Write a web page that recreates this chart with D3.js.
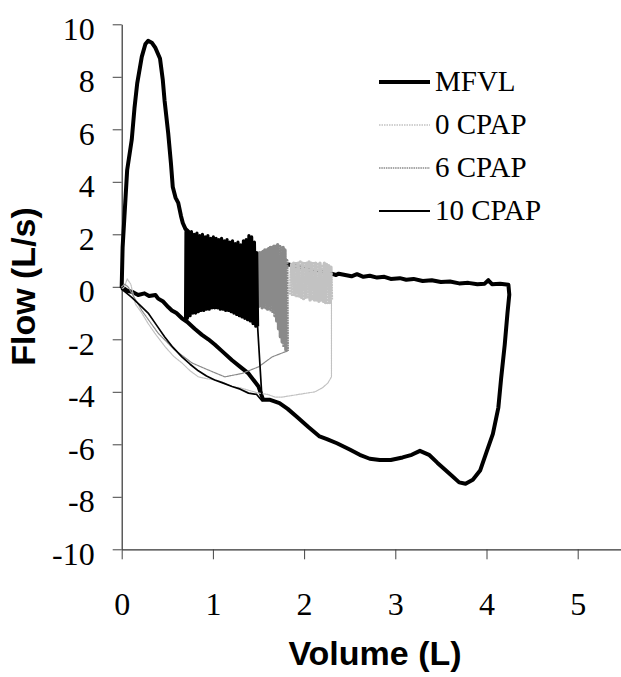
<!DOCTYPE html>
<html><head><meta charset="utf-8">
<script src="https://cdn.jsdelivr.net/npm/d3@7/dist/d3.min.js"></script>
<style>
html,body{margin:0;padding:0;background:#fff;}
svg{display:block;}
</style></head>
<body>
<svg id="chart" width="621" height="677"></svg>
<script>
// ---------- data ----------
const xTicks = [0, 1, 2, 3, 4, 5];
const yTicks = [-10, -8, -6, -4, -2, 0, 2, 4, 6, 8, 10];
const seriesNames = ["MFVL", "0 CPAP", "6 CPAP", "10 CPAP"];

// [volume (L), flow (L/s)]
const mfvl = [[0.00,0.00],[0.01,1.5],[0.06,4.45],[0.11,5.6],[0.14,6.8],[0.17,7.75],[0.22,8.76],[0.26,9.25],[0.29,9.37],[0.33,9.3],[0.37,9.1],[0.42,8.7],[0.45,7.9],[0.47,7.1],[0.51,5.85],[0.54,4.7],[0.56,3.8],[0.59,3.4],[0.62,3.2],[0.65,2.7],[0.67,2.43],[0.70,2.2],[0.85,1.7],[1.0,1.4],[1.15,1.2],[1.3,1.0],[1.5,0.9],[1.65,0.85],[1.83,0.85],[2.0,0.7],[2.15,0.6],[2.3,0.5],[2.35,0.45],[2.38,0.5],[2.45,0.45],[2.52,0.4],[2.58,0.48],[2.65,0.38],[2.72,0.42],[2.8,0.35],[2.88,0.38],[2.95,0.3],[3.05,0.33],[3.12,0.27],[3.2,0.3],[3.3,0.22],[3.4,0.25],[3.5,0.18],[3.6,0.2],[3.7,0.13],[3.8,0.15],[3.9,0.1],[3.98,0.12],[4.02,0.25],[4.06,0.1],[4.15,0.12],[4.24,0.08],[4.25,-0.3],[4.23,-1.0],[4.2,-2.2],[4.16,-3.5],[4.13,-4.6],[4.07,-5.6],[4.0,-6.3],[3.93,-7.0],[3.85,-7.35],[3.77,-7.5],[3.7,-7.45],[3.62,-7.2],[3.54,-6.95],[3.46,-6.7],[3.37,-6.4],[3.27,-6.25],[3.18,-6.4],[3.08,-6.5],[2.95,-6.6],[2.83,-6.6],[2.72,-6.55],[2.61,-6.4],[2.5,-6.2],[2.36,-5.96],[2.25,-5.8],[2.17,-5.7],[2.05,-5.35],[1.92,-4.95],[1.82,-4.65],[1.73,-4.43],[1.62,-4.3],[1.55,-4.3],[1.50,-3.8],[1.39,-3.3],[1.3,-3.05],[1.21,-2.8],[1.1,-2.45],[1.02,-2.2],[0.95,-2.0],[0.88,-1.83],[0.80,-1.6],[0.72,-1.34],[0.66,-1.2],[0.6,-1.0],[0.55,-0.9],[0.51,-0.77],[0.45,-0.55],[0.40,-0.45],[0.37,-0.31],[0.3,-0.35],[0.25,-0.25],[0.18,-0.31],[0.12,-0.2],[0.06,-0.15],[0.0,0.0]];

const cpap10Tidal = [[0.70,-1.3],[0.705,2.1],[0.72,-1.2],[0.735,2.05],[0.75,-1.1],[0.765,2.1],[0.78,-1.0],[0.795,2.0],[0.81,-1.0],[0.825,2.05],[0.84,-0.95],[0.855,1.95],[0.87,-0.9],[0.885,2.0],[0.90,-0.9],[0.915,1.9],[0.93,-0.85],[0.945,1.95],[0.96,-0.85],[0.975,1.85],[0.99,-0.8],[1.005,1.9],[1.02,-0.8],[1.035,1.85],[1.05,-0.8],[1.065,1.8],[1.08,-0.85],[1.095,1.85],[1.11,-0.85],[1.125,1.75],[1.14,-0.9],[1.155,1.8],[1.17,-0.9],[1.185,1.7],[1.20,-0.95],[1.215,1.75],[1.23,-1.0],[1.245,1.65],[1.26,-1.05],[1.275,1.7],[1.29,-1.1],[1.305,1.6],[1.32,-1.15],[1.335,1.75],[1.35,-1.2],[1.365,1.8],[1.38,-1.25],[1.395,1.95],[1.41,-1.3],[1.425,1.9],[1.44,-1.4],[1.455,1.7],[1.47,-1.5],[1.48,1.3],[1.49,-1.5]];
const cpap10Return = [[1.49,-1.5],[1.54,-4.35],[1.48,-4.1],[1.39,-4.05],[1.3,-3.9],[1.21,-3.8],[1.1,-3.65],[1.02,-3.55],[0.93,-3.4],[0.84,-3.2],[0.75,-2.95],[0.66,-2.67],[0.56,-2.3],[0.47,-1.9],[0.38,-1.45],[0.29,-1.0],[0.2,-0.7],[0.11,-0.4],[0.04,-0.2],[0.0,-0.1]];

const cpap6Tidal = [[1.48,-0.7],[1.49,1.25],[1.50,-0.75],[1.51,1.3],[1.52,-0.7],[1.53,1.3],[1.54,-0.8],[1.55,1.35],[1.56,-0.75],[1.57,1.4],[1.58,-0.8],[1.59,1.4],[1.60,-0.85],[1.61,1.45],[1.62,-0.9],[1.63,1.5],[1.64,-0.95],[1.65,1.5],[1.66,-1.0],[1.67,1.55],[1.68,-1.1],[1.69,1.6],[1.70,-1.3],[1.71,1.6],[1.72,-1.6],[1.73,1.6],[1.74,-1.9],[1.75,1.55],[1.76,-2.1],[1.77,1.5],[1.78,-2.3],[1.79,1.4],[1.80,-2.4],[1.81,1.0],[1.815,-2.45]];
const cpap6Return = [[1.815,-2.45],[1.76,-2.52],[1.65,-2.67],[1.5,-3.05],[1.32,-3.3],[1.13,-3.43],[0.95,-3.17],[0.77,-2.9],[0.58,-2.4],[0.4,-1.77],[0.22,-0.9],[0.07,0.0],[0.03,0.1],[0,0]];

const cpap0Tidal = [[1.85,-0.3],[1.862,0.85],[1.874,-0.35],[1.886,0.9],[1.898,-0.3],[1.91,0.95],[1.922,-0.4],[1.934,0.9],[1.946,-0.35],[1.958,0.95],[1.97,-0.4],[1.982,0.9],[1.994,-0.45],[2.006,0.95],[2.018,-0.4],[2.03,0.9],[2.042,-0.45],[2.054,0.95],[2.066,-0.5],[2.078,0.9],[2.09,-0.45],[2.102,0.95],[2.114,-0.5],[2.126,0.9],[2.138,-0.5],[2.15,0.85],[2.162,-0.55],[2.174,0.9],[2.186,-0.5],[2.198,0.85],[2.21,-0.55],[2.222,0.9],[2.234,-0.6],[2.246,0.85],[2.258,-0.6],[2.27,0.8],[2.282,-0.6],[2.294,0.75],[2.30,-0.5]];
const cpap0Return = [[2.30,-0.5],[2.30,-1.5],[2.3,-3.43],[2.26,-3.67],[2.2,-3.85],[2.12,-4.0],[2.03,-4.05],[1.94,-4.1],[1.85,-4.15],[1.76,-4.2],[1.68,-4.2],[1.6,-4.1],[1.5,-4.05],[1.4,-3.95],[1.3,-3.85],[1.21,-3.8],[1.12,-3.65],[1.03,-3.55],[0.93,-3.5],[0.84,-3.43],[0.75,-3.2],[0.66,-2.9],[0.57,-2.65],[0.48,-2.3],[0.38,-1.85],[0.29,-1.4],[0.22,-1.0],[0.15,-0.65],[0.1,0.1],[0.06,0.3],[0.03,0.0],[0,-0.1]];

// ---------- drawing ----------
const svg = d3.select("#chart");
const x = d3.scaleLinear().domain([0, 5.5]).range([121.7, 623.3]);
const y = d3.scaleLinear().domain([-10, 10]).range([549.3, 24.3]);

const styles = {
  "MFVL":    {stroke: "#000", width: 4, tidal: 4, dash: null, tidalDash: null},
  "0 CPAP":  {stroke: "#c2c2c2", width: 1.2, tidal: 3.4, dash: "1.5,1", tidalDash: "2.2,0.5"},
  "6 CPAP":  {stroke: "#8a8a8a", width: 1.2, tidal: 3.4, dash: "1.5,0.8", tidalDash: "2,0.5"},
  "10 CPAP": {stroke: "#000", width: 1.7, tidal: 3.2, dash: null, tidalDash: null}
};
const parts = {
  "MFVL": [[mfvl, "width"]],
  "0 CPAP": [[cpap0Tidal, "tidal"], [cpap0Return, "width"]],
  "6 CPAP": [[cpap6Tidal, "tidal"], [cpap6Return, "width"]],
  "10 CPAP": [[cpap10Tidal, "tidal"], [cpap10Return, "width"]]
};

// axes
const fmt = d => String(d);
const yAxis = d3.axisLeft(y).tickValues(yTicks).tickSize(9).tickSizeOuter(0).tickPadding(18).tickFormat(fmt);
const xAxis = d3.axisBottom(x).tickValues(xTicks).tickSize(10).tickSizeOuter(0).tickPadding(33).tickFormat(fmt);

const gy = svg.append("g").attr("transform", `translate(${x(0)},0)`).call(yAxis);
const gx = svg.append("g").attr("transform", `translate(0,${y(-10)})`).call(xAxis);
[gx, gy].forEach(g => {
  g.selectAll("path.domain").attr("stroke", "#333").attr("stroke-width", 1.2);
  g.selectAll(".tick line").attr("stroke", "#444").attr("stroke-width", 1);
  g.selectAll(".tick text").attr("fill", "#000")
    .style("font-family", "'Liberation Serif','Times New Roman',serif").style("font-size", "32px");
});
gy.selectAll(".tick text").attr("dy", "0.46em");
gx.selectAll(".tick text").attr("dy", "0.71em");

// series
const line = d3.line().x(d => x(d[0])).y(d => y(d[1])).curve(d3.curveLinear);
["MFVL", "0 CPAP", "6 CPAP", "10 CPAP"].forEach(name => {
  const s = styles[name];
  parts[name].forEach(([data, kind]) => {
    svg.append("path").datum(data)
      .attr("d", line).attr("fill", "none")
      .attr("stroke", s.stroke).attr("stroke-width", s[kind])
      .attr("stroke-linejoin", "round").attr("stroke-linecap", kind === "tidal" ? "butt" : "round")
      .attr("stroke-dasharray", kind === "tidal" ? s.tidalDash : s.dash);
  });
});

// legend
const legend = svg.append("g");
const legendY = [91, 134, 177, 220];
seriesNames.forEach((name, i) => {
  const s = styles[name];
  legend.append("line").attr("x1", 379).attr("x2", 430)
    .attr("y1", legendY[i] - 9).attr("y2", legendY[i] - 9)
    .attr("stroke", s.stroke).attr("stroke-width", name === "MFVL" ? 4 : (name === "10 CPAP" ? 2 : 1.3))
    .attr("stroke-dasharray", s.dash);
  legend.append("text").attr("x", 435).attr("y", legendY[i]).text(name)
    .style("font-family", "'Liberation Serif','Times New Roman',serif").style("font-size", "29px").attr("fill", "#000");
});

// axis titles
svg.append("text").attr("x", 375).attr("y", 665).attr("text-anchor", "middle").text("Volume (L)")
  .style("font-family", "'Liberation Sans',Arial,sans-serif").style("font-weight", "bold").style("font-size", "34px");
svg.append("text").attr("transform", "translate(35,286.5) rotate(-90)").attr("text-anchor", "middle").text("Flow (L/s)")
  .style("font-family", "'Liberation Sans',Arial,sans-serif").style("font-weight", "bold").style("font-size", "34px");
</script>
</body></html>
